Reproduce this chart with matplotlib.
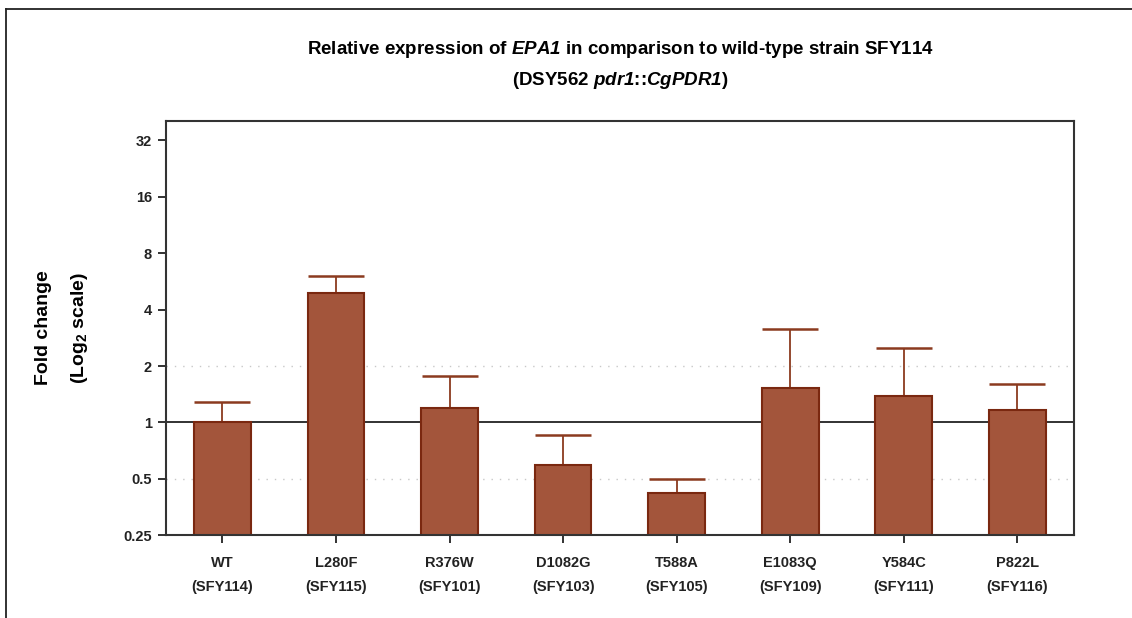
import numpy as np
import matplotlib
matplotlib.use("Agg")
import matplotlib.pyplot as plt
from matplotlib.lines import Line2D

plt.rcParams['font.family'] = ['Liberation Sans', 'DejaVu Sans']
plt.rcParams['font.weight'] = 'bold'
plt.rcParams['mathtext.fontset'] = 'custom'
plt.rcParams['mathtext.rm'] = 'Liberation Sans:bold'
plt.rcParams['mathtext.it'] = 'Liberation Sans:bold:italic'
plt.rcParams['mathtext.sf'] = 'Liberation Sans:bold:italic'
plt.rcParams['mathtext.bf'] = 'Liberation Sans:bold'

mutations = ["WT", "L280F", "R376W", "D1082G", "T588A", "E1083Q", "Y584C", "P822L"]
strains = ["SFY114", "SFY115", "SFY101", "SFY103", "SFY105", "SFY109", "SFY111", "SFY116"]
fold_change = [1.00, 4.92, 1.20, 0.59, 0.42, 1.52, 1.38, 1.17]
upper_err = [0.28, 1.14, 0.58, 0.27, 0.08, 1.63, 1.11, 0.44]
yticks = [0.25, 0.5, 1, 2, 4, 8, 16, 32]
ytick_labels = ["0.25", "0.5", "1", "2", "4", "8", "16", "32"]

bar_color = "#a3553b"
edge_color = "#7a2810"
axis_color = "#333333"

fig = plt.figure(figsize=(11.32, 6.18), dpi=100)
ax = fig.add_axes([0.1464, 0.1338, 0.9488 - 0.1464, 0.8047 - 0.1338])

x = np.arange(len(mutations))
ax.set_yscale('log', base=2)

# reference lines behind the bars
ax.axhline(1, color="#222222", linewidth=1.3, zorder=1)
for g in [0.5, 2]:
    ax.axhline(g, color="#c8c8c8", linewidth=1.0, linestyle=(0, (1, 5)), zorder=1)

ax.bar(x, fold_change, width=0.5, color=bar_color, edgecolor=edge_color,
       linewidth=1.5, zorder=2)
ax.errorbar(x, fold_change, yerr=[np.zeros(len(x)), upper_err], fmt='none',
            ecolor="#8b3a1f", elinewidth=1.3, capsize=20, capthick=1.8, zorder=1.5)

ax.set_xlim(-0.5, 7.5)
ax.set_ylim(0.25, 40.8)
ax.set_yticks(yticks)
ax.set_yticklabels(ytick_labels)
ax.minorticks_off()
ax.set_xticks(x)
ax.set_xticklabels([f"{m}\n({s})" for m, s in zip(mutations, strains)],
                   linespacing=1.9)

ax.tick_params(axis='y', direction='out', length=6, width=1.3, pad=4,
               labelsize=10.5, colors='#222222')
ax.tick_params(axis='x', direction='out', length=6, width=1.3, pad=9,
               labelsize=10.5, colors='#222222')
for lab in ax.get_xticklabels() + ax.get_yticklabels():
    lab.set_fontweight('bold')

for spine in ax.spines.values():
    spine.set_linewidth(1.5)
    spine.set_color(axis_color)

ax.set_ylabel("Fold change\n(Log$_2$ scale)", fontsize=14, fontweight='bold',
              linespacing=2.1, labelpad=24)

fig.text(0.548, 0.895,
         "Relative expression of $\\mathsf{EPA1}$ in comparison to wild-type strain SFY114\n"
         "(DSY562 $\\mathsf{pdr1}$::$\\mathsf{CgPDR1}$)",
         ha='center', va='center', fontsize=13.5, fontweight='bold', linespacing=1.7)

# outer frame of the original figure panel
fig.add_artist(Line2D([0.0053, 1.0], [0.9854, 0.9854], transform=fig.transFigure,
                      color="#222222", linewidth=1.3))
fig.add_artist(Line2D([0.0053, 0.0053], [0.0, 0.9854], transform=fig.transFigure,
                      color="#222222", linewidth=1.3))

fig.savefig("out.png", dpi=100)
